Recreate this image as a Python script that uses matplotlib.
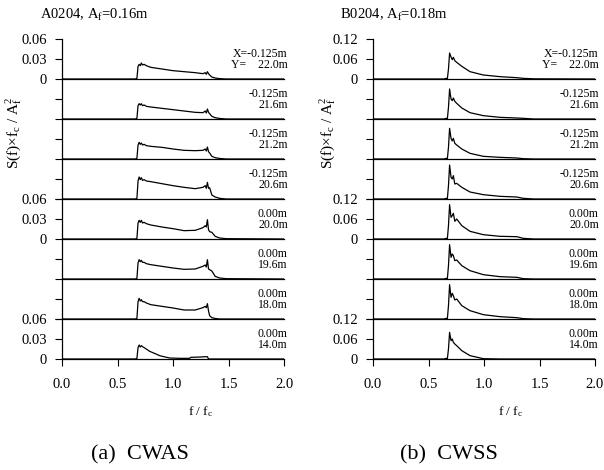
import matplotlib
matplotlib.use("Agg")
import matplotlib.pyplot as plt

plt.rcParams['font.family'] = 'Liberation Serif'
plt.rcParams['mathtext.fontset'] = 'custom'
plt.rcParams['mathtext.rm'] = 'Liberation Serif'
plt.rcParams['mathtext.it'] = 'Liberation Serif:italic'

# labels at the right of each strip (top to bottom)
x_labels = ["X=-0.125m", "-0.125m", "-0.125m", "-0.125m", "0.00m", "0.00m", "0.00m", "0.00m"]
y_labels = ["Y=    22.0m", "21.6m", "21.2m", "20.6m", "20.0m", "19.6m", "18.0m", "14.0m"]

# (a) CWAS spectra, S(f)*fc/Af^2 vs f/fc
f_a = [0.0, 0.66, 0.675, 0.685, 0.695, 0.705, 0.715, 0.725, 0.74, 0.76, 0.80, 0.90, 1.00,
       1.10, 1.20, 1.27, 1.29, 1.30, 1.31, 1.32, 1.33, 1.35, 1.38, 1.42, 1.48, 2.0]
cwas = [
    [0, 0, 0.001, 0.019, 0.022, 0.020, 0.024, 0.021, 0.022, 0.020, 0.0175, 0.015, 0.0125,
     0.011, 0.0095, 0.008, 0.0095, 0.007, 0.011, 0.008, 0.006, 0.003, 0.0015, 0.0005, 0, 0],
    [0, 0, 0.001, 0.020, 0.023, 0.021, 0.023, 0.020, 0.021, 0.019, 0.018, 0.016, 0.014,
     0.012, 0.010, 0.0095, 0.012, 0.009, 0.015, 0.010, 0.008, 0.004, 0.002, 0.0008, 0, 0],
    [0, 0, 0.001, 0.021, 0.025, 0.022, 0.024, 0.021, 0.022, 0.020, 0.019, 0.0175, 0.015,
     0.013, 0.0125, 0.013, 0.015, 0.012, 0.018, 0.011, 0.009, 0.004, 0.002, 0.0008, 0, 0],
    [0, 0, 0.001, 0.027, 0.033, 0.029, 0.032, 0.028, 0.029, 0.027, 0.026, 0.023, 0.020,
     0.0175, 0.0155, 0.0175, 0.020, 0.016, 0.025, 0.016, 0.017, 0.006, 0.003, 0.001, 0, 0],
    [0, 0, 0.001, 0.024, 0.028, 0.025, 0.028, 0.024, 0.025, 0.023, 0.021, 0.018, 0.0155,
     0.0125, 0.013, 0.017, 0.020, 0.018, 0.029, 0.014, 0.011, 0.010, 0.004, 0.0015, 0.0005, 0],
    [0, 0, 0.001, 0.024, 0.029, 0.026, 0.028, 0.025, 0.025, 0.023, 0.0215, 0.019, 0.0165,
     0.0145, 0.015, 0.019, 0.021, 0.018, 0.029, 0.015, 0.014, 0.012, 0.004, 0.0015, 0.0005, 0],
    [0, 0, 0.001, 0.026, 0.031, 0.027, 0.029, 0.026, 0.026, 0.024, 0.0215, 0.019, 0.0165,
     0.0135, 0.0135, 0.017, 0.019, 0.017, 0.023, 0.012, 0.005, 0.002, 0.0008, 0, 0, 0],
]
# last strip (Y=14.0m) has its own shape
f_a8 = [0, 0.66, 0.675, 0.685, 0.695, 0.705, 0.715, 0.73, 0.75, 0.79, 0.84, 0.88, 0.93,
        0.97, 1.06, 1.15, 1.16, 1.25, 1.30, 1.31, 1.32, 2.0]
cwas_8 = [0, 0, 0.001, 0.017, 0.021, 0.018, 0.020, 0.018, 0.016, 0.0115, 0.008, 0.005, 0.003,
          0.0015, 0.001, 0.001, 0.0025, 0.003, 0.0035, 0.0035, 0, 0]

# (b) CWSS spectra
f_b = [0, 0.64, 0.66, 0.67, 0.68, 0.69, 0.703, 0.714, 0.724, 0.737, 0.754, 0.80, 0.874,
       0.994, 1.144, 1.295, 1.354, 1.45, 2.0]
cwss = [
    [0, 0, 0.002, 0.001, 0.03, 0.078, 0.066, 0.058, 0.065, 0.055, 0.05, 0.038, 0.022, 0.012, 0.007, 0.004, 0.002, 0.0005, 0],
    [0, 0, 0.002, 0.001, 0.035, 0.09, 0.06, 0.055, 0.063, 0.053, 0.047, 0.033, 0.019, 0.010, 0.005, 0.003, 0.002, 0, 0],
    [0, 0, 0.002, 0.001, 0.035, 0.092, 0.062, 0.054, 0.062, 0.047, 0.042, 0.030, 0.017, 0.008, 0.005, 0.003, 0.001, 0, 0],
    [0, 0, 0.002, 0.001, 0.04, 0.102, 0.065, 0.060, 0.070, 0.045, 0.047, 0.035, 0.021, 0.013, 0.008, 0.006, 0.002, 0, 0],
    [0, 0, 0.002, 0.001, 0.04, 0.103, 0.065, 0.070, 0.077, 0.053, 0.060, 0.040, 0.023, 0.013, 0.008, 0.007, 0.002, 0, 0],
    [0, 0, 0.002, 0.001, 0.04, 0.103, 0.065, 0.075, 0.070, 0.055, 0.057, 0.040, 0.025, 0.013, 0.007, 0.005, 0.001, 0, 0],
    [0, 0, 0.002, 0.001, 0.04, 0.103, 0.065, 0.077, 0.070, 0.057, 0.060, 0.040, 0.025, 0.013, 0.007, 0.004, 0.001, 0, 0],
    [0, 0, 0.002, 0.001, 0.03, 0.080, 0.055, 0.060, 0.050, 0.045, 0.040, 0.025, 0.010, 0.001, 0, 0, 0, 0, 0],
]

xticks = [0.0, 0.5, 1.0, 1.5, 2.0]

W, H = 604, 470
fig = plt.figure(figsize=(W / 100, H / 100), dpi=100)


def draw_column(x0, curves, ymax, ylabs):
    for k in range(8):
        ax = fig.add_axes([x0 / W, 1 - (79 + 40 * k) / H, 222 / W, 40 / H])
        f, s = curves[k]
        ax.plot(f, s, color='k', lw=0.9)
        ax.set_xlim(0, 2)
        ax.set_ylim(0, ymax)
        ax.spines['top'].set_visible(False)
        ax.spines['right'].set_visible(False)
        ax.spines['left'].set_linewidth(0.9)
        ax.spines['bottom'].set_linewidth(0.9)
        ax.patch.set_visible(False)
        if k in (0, 4, 7):
            ax.set_yticks([0, ymax / 2, ymax])
            ax.set_yticklabels(ylabs)
        else:
            ax.set_yticks([0, ymax / 2])
            ax.set_yticklabels(["", ""])
        ax.tick_params(axis='y', direction='out', length=5, width=0.8, labelsize=10.5, pad=6)
        if k == 7:
            ax.set_xticks(xticks)
            ax.set_xticklabels(["%.1f" % t for t in xticks])
            ax.tick_params(axis='x', direction='out', length=5, width=0.8, labelsize=10.5, pad=9)
        else:
            ax.set_xticks([])
        ax.text(1.017, 0.62, x_labels[k], transform=ax.transAxes, ha='right', va='center', fontsize=8.5)
        ax.text(1.017, 0.34, y_labels[k], transform=ax.transAxes, ha='right', va='center', fontsize=8.5)


left_curves = [(f_a, c) for c in cwas] + [(f_a8, cwas_8)]
right_curves = [(f_b, c) for c in cwss]
draw_column(62, left_curves, 0.06, ["0", "0.03", "0.06"])
draw_column(373, right_curves, 0.12, ["0", "0.06", "0.12"])

ylab = r"S(f)×f$_\mathrm{c}$ / A$_\mathrm{f}^\mathrm{2}$"
fig.text(14 / W, 1 - 133 / H, ylab, rotation=90, ha='center', va='center', fontsize=11)
fig.text(328 / W, 1 - 133 / H, ylab, rotation=90, ha='center', va='center', fontsize=11)

fig.text(40 / W, 1 - 15 / H, r"A0204, A$_\mathrm{f}$=0.16m", ha='left', va='center', fontsize=10.5)
fig.text(340 / W, 1 - 15 / H, r"B0204, A$_\mathrm{f}$=0.18m", ha='left', va='center', fontsize=10.5)

xlab = r"f / f$_\mathrm{c}$"
fig.text(201 / W, 1 - 412 / H, xlab, ha='center', va='center', fontsize=9.5)
fig.text(511 / W, 1 - 412 / H, xlab, ha='center', va='center', fontsize=9.5)

fig.text(140 / W, 1 - 455 / H, "(a)  CWAS", ha='center', va='center', fontsize=16)
fig.text(449 / W, 1 - 455 / H, "(b)  CWSS", ha='center', va='center', fontsize=16)

fig.savefig("out.png", dpi=100)
